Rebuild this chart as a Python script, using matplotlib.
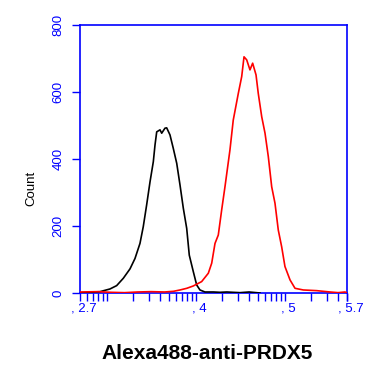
import matplotlib
matplotlib.use('Agg')
import matplotlib.pyplot as plt
import matplotlib.transforms as mtransforms
import numpy as np

# fluorescence channel as log10 exponent, counts
ctrl_log = [2.70, 2.925, 3.037, 3.112, 3.187, 3.262, 3.318, 3.374, 3.411, 3.449,
            3.487, 3.524, 3.543, 3.562, 3.599, 3.618, 3.655, 3.674, 3.711, 3.748,
            3.787, 3.824, 3.861, 3.899, 3.928, 3.973, 4.011, 4.048, 4.104, 4.20,
            4.273, 4.35, 4.42, 4.498, 4.60, 4.722]
ctrl_cnt = [0, 4, 12, 22, 44, 72, 103, 148, 198, 263,
            332, 392, 442, 481, 487, 477, 492, 493, 472, 432,
            387, 322, 253, 193, 113, 64, 24, 9, 3, 3,
            2, 3, 2, 1, 3, 0]

prdx5_log = [2.70, 2.90, 3.05, 3.20, 3.35, 3.50, 3.65, 3.75, 3.824, 3.90,
             3.973, 4.067, 4.142, 4.180, 4.217, 4.254, 4.292, 4.329, 4.385, 4.422,
             4.479, 4.517, 4.543, 4.573, 4.610, 4.640, 4.678, 4.703, 4.742, 4.779,
             4.816, 4.854, 4.891, 4.928, 4.966, 5.003, 5.060, 5.116, 5.209, 5.360,
             5.509, 5.60, 5.678, 5.70]
prdx5_cnt = [3, 4, 2, 1, 3, 4, 3, 5, 9, 14,
             21, 34, 59, 89, 148, 173, 248, 317, 427, 516,
             596, 646, 705, 696, 666, 686, 651, 596, 526, 477,
             407, 317, 268, 188, 138, 79, 39, 14, 9, 7,
             3, 1, 3, 0]

x_ticks = [2.7, 4, 5, 5.7]
x_ticklabels = [', 2.7', ', 4', ', 5', ', 5.7']
y_ticks = [0, 200, 400, 600, 800]

blue = '#0000ff'
plt.rcParams['font.family'] = ['Liberation Sans', 'DejaVu Sans']

fig = plt.figure(figsize=(3.75, 3.73), dpi=100)
ax = fig.add_axes([0.2133, 0.2145, 0.712, 0.7185])

ax.plot(10 ** np.array(ctrl_log), ctrl_cnt, color='black', lw=1.2, zorder=3)
ax.plot(10 ** np.array(prdx5_log), prdx5_cnt, color='red', lw=1.2, zorder=3)

ax.set_xscale('log')
ax.set_xlim(10 ** 2.7, 10 ** 5.7)
ax.set_ylim(0, 800)

ax.xaxis.set_major_locator(matplotlib.ticker.FixedLocator([10 ** v for v in x_ticks]))
ax.xaxis.set_major_formatter(matplotlib.ticker.FixedFormatter(x_ticklabels))
ax.xaxis.set_minor_locator(matplotlib.ticker.LogLocator(base=10, subs=np.arange(1, 10), numticks=20))
ax.xaxis.set_minor_formatter(matplotlib.ticker.NullFormatter())
ax.set_yticks(y_ticks)

for s in ax.spines.values():
	s.set_color(blue)
	s.set_linewidth(1.2)

ax.tick_params(axis='x', which='both', direction='out', length=5.5, width=1.0,
               color=blue, labelcolor=blue, labelsize=9.5, pad=1.5)
ax.tick_params(axis='y', direction='out', length=6, width=1.0,
               color=blue, labelcolor=blue, labelsize=9.5, pad=5)
for lbl in ax.get_yticklabels():
	lbl.set_rotation(90)
	lbl.set_va('center')
# shift x labels so the number sits on the tick
off = mtransforms.ScaledTranslation(4 / 100, 0, fig.dpi_scale_trans)
for lbl in ax.get_xticklabels():
	lbl.set_transform(lbl.get_transform() + off)

ax.set_ylabel('Count', fontsize=9.5, color='black')
ax.yaxis.set_label_coords(-0.161, 0.392)
ax.set_xlabel('Alexa488-anti-PRDX5', fontsize=15, fontweight='bold', color='black')
ax.xaxis.set_label_coords(0.476, -0.192)

fig.savefig('out.png', dpi=100)
